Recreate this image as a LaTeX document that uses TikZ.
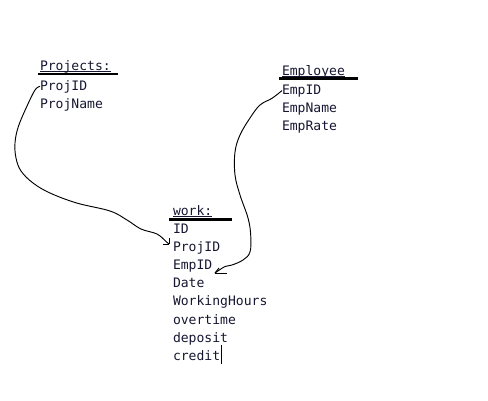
\documentclass[tikz,border=0pt]{standalone}
\usepackage{fontspec}
\setmonofont{DejaVu Sans Mono}
\definecolor{txt}{RGB}{22,22,50}
\begin{document}
\begin{tikzpicture}[x=0.75pt,y=-0.75pt,
  fld/.style={anchor=base west,inner sep=0pt,outer sep=0pt,text=txt,font=\ttfamily\fontsize{9.8pt}{11pt}\selectfont},
  bar/.style={line width=1.9pt,black},
  uline/.style={line width=0.6pt,txt},
  conn/.style={line width=0.7pt,black}]
\useasboundingbox (0,0) rectangle (488,400);
% Projects
\node[fld] (projh) at (40,70) {Projects:};
\node[fld] (pid) at (40,90) {ProjID};
\node[fld] (pname) at (40,108) {ProjName};
\draw[uline] ([yshift=-1.3pt]projh.base west) -- ([yshift=-1.3pt]projh.base east);
\draw[bar] (38,74) -- (118,74);
% Employee
\node[fld] (emph) at (282,75) {Employee};
\node[fld] (eid) at (282,94) {EmpID};
\node[fld] (ename) at (282,112) {EmpName};
\node[fld] (erate) at (282,130) {EmpRate};
\draw[uline] ([yshift=-1.3pt]emph.base west) -- ([yshift=-1.3pt]emph.base east);
\draw[bar] (279,78.5) -- (358,78.5);
% work
\node[fld] (workh) at (173,215) {work:};
\node[fld] (wid) at (173,233.5) {ID};
\node[fld] (wpid) at (173,251.6) {ProjID};
\node[fld] (weid) at (173,269.7) {EmpID};
\node[fld] (wdate) at (173,287.8) {Date};
\node[fld] (whours) at (173,305.9) {WorkingHours};
\node[fld] (wover) at (173,324) {overtime};
\node[fld] (wdep) at (173,342.1) {deposit};
\node[fld] (wcred) at (173,360.2) {credit};
\draw[uline] ([yshift=-1.3pt]workh.base west) -- ([yshift=-1.3pt]workh.base east);
\draw[bar] (169,219.5) -- (232,219.5);
% cursor
\draw[line width=0.7pt,black] ([xshift=0.8pt]wcred.base east) ++(0,4) -- ++(0,-19);
% connector Projects.ProjID -> work.ProjID
\coordinate (tipA) at (169,244);
\draw[conn] plot[smooth,tension=0.6] coordinates {(pid.west) (35,90) (26.7,106.7) (18.3,126.7) (15,143) (16,158) (21,171) (33,183) (50,193) (76.7,203) (110,211) (127,220) (141,229) (157,234) (166,241.5) (tipA)};
\draw[conn] (tipA) -- ++(0,-6);
\draw[conn] (tipA) -- ++(-6,0);
% connector Employee.EmpID -> work.EmpID
\coordinate (tipB) at (215,273);
\draw[conn] plot[smooth,tension=0.6] coordinates {(eid.west) (272,98.3) (260,105) (250,118) (240,135) (235,152) (235,175) (240,195) (248,218) (250.7,235) (250,252) (243,260) (232,265) (225,266.5) (tipB)};
\draw[conn] (tipB) -- ++(12,0);
\draw[conn] (tipB) -- ++(4,-5);
\end{tikzpicture}
\end{document}
